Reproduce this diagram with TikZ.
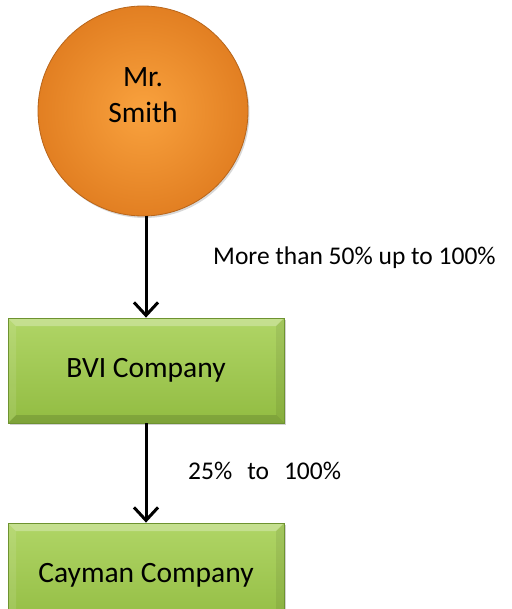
\documentclass[tikz,border=0pt]{standalone}
\usepackage{fontspec}
\setmainfont{Carlito}
\usetikzlibrary{arrows.meta,shadows}
\definecolor{orin}{HTML}{F9A23E}
\definecolor{orout}{HTML}{E27F22}
\definecolor{ordark}{HTML}{B8651A}
\definecolor{grtop}{HTML}{B0D566}
\definecolor{grbot}{HTML}{92BC42}
\definecolor{grdark}{HTML}{6E9330}
\tikzset{
  ownerball/.style={circle, minimum size=210pt, inner sep=0pt, draw=ordark, line width=0.8pt,
    inner color=orin, outer color=orout,
    drop shadow={shadow xshift=1.5pt, shadow yshift=-2pt, opacity=0.3}},
  companybox/.style={rectangle, minimum width=276pt, minimum height=105pt, inner sep=0pt,
    draw=grdark, line width=0.8pt, top color=grtop, bottom color=grbot,
    drop shadow={shadow xshift=1.5pt, shadow yshift=-2pt, opacity=0.35},
    font=\fontsize{29.5}{34}\selectfont,
    path picture={
      \coordinate (bl) at (path picture bounding box.south west);
      \coordinate (tr) at (path picture bounding box.north east);
      \fill[white, opacity=0.28] (bl |- tr) -- (tr) -- ([xshift=-8pt,yshift=-8pt]tr) -- ([xshift=8pt,yshift=-8pt]bl |- tr) -- cycle;
      \fill[black, opacity=0.13] (bl) -- (bl -| tr) -- ([xshift=-8pt,yshift=8pt]bl -| tr) -- ([xshift=8pt,yshift=8pt]bl) -- cycle;
      \fill[white, opacity=0.10] (bl) -- (bl |- tr) -- ([xshift=8pt,yshift=-8pt]bl |- tr) -- ([xshift=8pt,yshift=8pt]bl) -- cycle;
      \fill[black, opacity=0.07] (bl -| tr) -- (tr) -- ([xshift=-8pt,yshift=-8pt]tr) -- ([xshift=-8pt,yshift=8pt]bl -| tr) -- cycle;
    }},
  link/.style={line width=3pt, -{Straight Barb[length=13pt,width=24pt,line width=3pt]}},
  linklabel/.style={anchor=west, inner sep=0pt, font=\fontsize{25.5}{30}\selectfont}
}
\begin{document}
\begin{tikzpicture}[x=1pt,y=-1pt]
\useasboundingbox[fill=white] (0,0) rectangle (511,609);
\node[ownerball] (smith) at (143,111) {};
\node[align=center, font=\fontsize{29.5}{36}\selectfont, inner sep=0pt] (smithtxt) at (143,95) {Mr.\\Smith};
\node[companybox] (bvi) at (146,370.5) {BVI Company};
\node[companybox] (cayman) at (146,575.5) {\raisebox{3pt}{Cayman Company}};
\draw[link] (smith.south -| bvi.north) -- (bvi.north);
\draw[link] (bvi.south) -- (cayman.north);
\node[linklabel] (l1) at (213,258) {More than 50\% up to 100\%};
\node[linklabel] (l2) at (188,471) {25\%\hspace{15pt}to\hspace{15pt}100\%};
\end{tikzpicture}
\end{document}
